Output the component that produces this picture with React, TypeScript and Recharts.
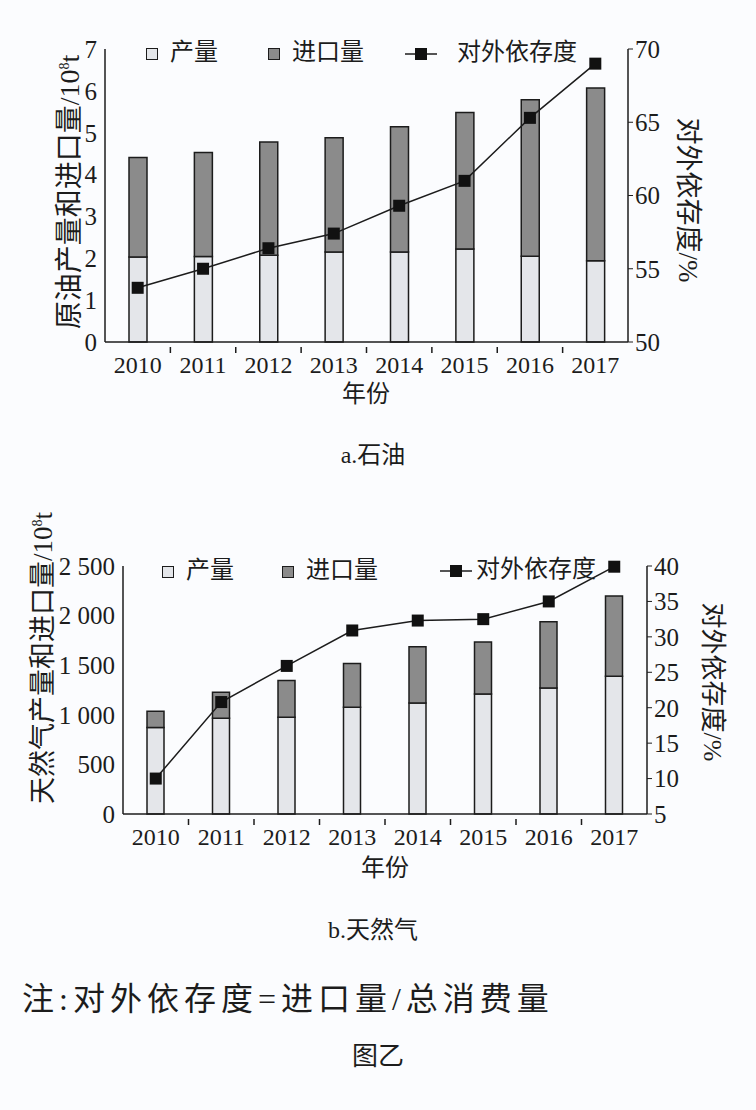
import React from 'react';
import { ComposedChart, Bar, Line, XAxis, YAxis } from 'recharts';

const years = ['2010', '2011', '2012', '2013', '2014', '2015', '2016', '2017'];

// a. 石油 (10^8 t, %)
const oilOutput = [2.03, 2.04, 2.07, 2.15, 2.15, 2.22, 2.05, 1.94];
const oilImport = [2.38, 2.49, 2.71, 2.73, 2.99, 3.26, 3.74, 4.13];
const oilDependence = [53.7, 55.0, 56.4, 57.4, 59.3, 61.0, 65.3, 69.0];
const oilLeftTicks = [0, 1, 2, 3, 4, 5, 6, 7];
const oilRightTicks = [50, 55, 60, 65, 70];

// b. 天然气
const gasOutput = [871, 965, 975, 1077, 1118, 1209, 1270, 1389];
const gasImport = [164, 262, 370, 441, 569, 525, 668, 809];
const gasDependence = [10.0, 20.8, 25.9, 30.9, 32.3, 32.5, 35.0, 39.9];
const gasLeftTicks = [0, 500, 1000, 1500, 2000, 2500];
const gasRightTicks = [5, 10, 15, 20, 25, 30, 35, 40];

const FONT = '"Liberation Serif", "Noto Sans CJK SC", serif';
const INK = '#1c1c1c';
const OUTPUT_FILL = '#e4e6ea';
const IMPORT_FILL = '#8b8b8b';

const oilData = years.map((y, i) => ({
  year: y,
  output: oilOutput[i],
  imports: oilImport[i],
  dep: oilDependence[i],
}));

const gasData = years.map((y, i) => ({
  year: y,
  output: gasOutput[i],
  imports: gasImport[i],
  dep: gasDependence[i],
}));

const xTickStyle = { fontFamily: FONT, fontSize: 24, fill: INK };
const yTickStyle = { fontFamily: FONT, fontSize: 25, fill: INK };

const spaced = (v: number) =>
  v >= 1000 ? `${Math.floor(v / 1000)} ${String(v % 1000).padStart(3, '0')}` : String(v);

// year label plus a small tick mark between categories
const YearTick = (props: any) => {
  const { x, y, payload, index } = props;
  const half = payload?.offset ?? 32;
  return (
    <g>
      <text x={x} y={y} dy="0.71em" textAnchor="middle" {...xTickStyle}>
        {payload.value}
      </text>
      {index < years.length - 1 && (
        <line x1={x + half} x2={x + half} y1={y - 9} y2={y - 3} stroke={INK} strokeWidth={1.5} />
      )}
    </g>
  );
};

const SquareDot = (props: any) => {
  const { cx, cy, index } = props;
  if (cx == null || cy == null) return null;
  return <rect key={index} x={cx - 6} y={cy - 6} width={12} height={12} fill="#111" />;
};

const BoxIcon = ({ fill }: { fill: string }) => (
  <span
    style={{
      display: 'inline-block',
      width: 10,
      height: 10,
      background: fill,
      border: `1.5px solid ${INK}`,
      marginRight: 12,
      verticalAlign: 'middle',
    }}
  />
);

const LineIcon = () => (
  <svg width={32} height={14} style={{ verticalAlign: 'middle', marginRight: 4 }}>
    <line x1={0} x2={32} y1={7} y2={7} stroke={INK} strokeWidth={1.5} />
    <rect x={10} y={1} width={12} height={12} fill="#111" />
  </svg>
);

const abs = (left: number, top: number, extra: React.CSSProperties = {}): React.CSSProperties => ({
  position: 'absolute',
  left,
  top,
  fontFamily: FONT,
  color: INK,
  whiteSpace: 'nowrap',
  lineHeight: 1,
  ...extra,
});

interface PanelProps {
  data: any[];
  top: number;
  height: number;
  margin: { top: number; bottom: number };
  leftWidth: number;
  rightWidth: number;
  leftDomain: number[];
  leftTicks: number[];
  rightDomain: number[];
  rightTicks: number[];
  barSize: number;
}

const Panel = (p: PanelProps) => (
  <div style={{ position: 'absolute', left: 0, top: p.top }}>
    <ComposedChart
      width={756}
      height={p.height}
      data={p.data}
      margin={{ top: p.margin.top, right: 0, bottom: p.margin.bottom, left: 0 }}
      barCategoryGap="0%"
    >
      <XAxis
        dataKey="year"
        height={30}
        tickLine={false}
        axisLine={{ stroke: INK, strokeWidth: 1.5 }}
        tick={<YearTick />}
        tickMargin={8}
        interval={0}
      />
      <YAxis
        yAxisId="left"
        width={p.leftWidth}
        domain={p.leftDomain}
        ticks={p.leftTicks}
        tickFormatter={spaced}
        tick={yTickStyle}
        tickLine={false}
        axisLine={{ stroke: INK, strokeWidth: 1.5 }}
        interval={0}
      />
      <YAxis
        yAxisId="right"
        orientation="right"
        width={p.rightWidth}
        domain={p.rightDomain}
        ticks={p.rightTicks}
        tick={yTickStyle}
        tickSize={5}
        tickLine={{ stroke: INK }}
        axisLine={{ stroke: INK, strokeWidth: 1.5 }}
        interval={0}
      />
      <Bar
        yAxisId="left"
        dataKey="output"
        stackId="s"
        barSize={p.barSize}
        fill={OUTPUT_FILL}
        stroke={INK}
        strokeWidth={1.5}
        isAnimationActive={false}
      />
      <Bar
        yAxisId="left"
        dataKey="imports"
        stackId="s"
        barSize={p.barSize}
        fill={IMPORT_FILL}
        stroke={INK}
        strokeWidth={1.5}
        isAnimationActive={false}
      />
      <Line
        yAxisId="right"
        dataKey="dep"
        type="linear"
        stroke={INK}
        strokeWidth={1.5}
        dot={SquareDot}
        activeDot={false}
        isAnimationActive={false}
      />
    </ComposedChart>
  </div>
);

export default function App() {
  return (
    <div
      style={{
        position: 'absolute',
        left: 0,
        top: 0,
        width: 756,
        height: 1110,
        background: '#fbfcfe',
        overflow: 'hidden',
      }}
    >
      {/* a. 石油 */}
      <Panel
        data={oilData}
        top={0}
        height={380}
        margin={{ top: 49, bottom: 8 }}
        leftWidth={105}
        rightWidth={128}
        leftDomain={[0, 7]}
        leftTicks={oilLeftTicks}
        rightDomain={[50, 70]}
        rightTicks={oilRightTicks}
        barSize={18}
      />
      <div style={abs(146, 40, { fontSize: 24 })}>
        <BoxIcon fill={OUTPUT_FILL} />产量
      </div>
      <div style={abs(268, 40, { fontSize: 24 })}>
        <BoxIcon fill={IMPORT_FILL} />进口量
      </div>
      <div style={abs(405, 40, { fontSize: 24 })}>
        <LineIcon />
        <span style={{ marginLeft: 16 }}>对外依存度</span>
      </div>
      <div style={abs(70, 192, { fontSize: 28, transform: 'translate(-50%, -50%) rotate(-90deg)' })}>
        原油产量和进口量/10<sup style={{ fontSize: 14 }}>8</sup>t
      </div>
      <div style={abs(687, 200, { fontSize: 27, transform: 'translate(-50%, -50%) rotate(90deg)' })}>
        对外依存度/%
      </div>
      <div style={abs(366, 394, { fontSize: 24, transform: 'translate(-50%, -50%)' })}>年份</div>
      <div style={abs(373, 455, { fontSize: 24, transform: 'translate(-50%, -50%)' })}>a.石油</div>

      {/* b. 天然气 */}
      <Panel
        data={gasData}
        top={500}
        height={360}
        margin={{ top: 66, bottom: 16 }}
        leftWidth={123}
        rightWidth={109}
        leftDomain={[0, 2500]}
        leftTicks={gasLeftTicks}
        rightDomain={[5, 40]}
        rightTicks={gasRightTicks}
        barSize={17}
      />
      <div style={abs(162, 558, { fontSize: 24 })}>
        <BoxIcon fill={OUTPUT_FILL} />产量
      </div>
      <div style={abs(282, 558, { fontSize: 24 })}>
        <BoxIcon fill={IMPORT_FILL} />进口量
      </div>
      <div style={abs(440, 557, { fontSize: 24 })}>
        <LineIcon />
        对外依存度
      </div>
      <div style={abs(43, 658, { fontSize: 27, transform: 'translate(-50%, -50%) rotate(-90deg)' })}>
        天然气产量和进口量/10<sup style={{ fontSize: 14 }}>8</sup>t
      </div>
      <div style={abs(712, 682, { fontSize: 26, transform: 'translate(-50%, -50%) rotate(90deg)' })}>
        对外依存度/%
      </div>
      <div style={abs(385, 868, { fontSize: 24, transform: 'translate(-50%, -50%)' })}>年份</div>
      <div style={abs(373, 930, { fontSize: 24, transform: 'translate(-50%, -50%)' })}>b.天然气</div>

      <div style={abs(22, 983, { fontSize: 32, letterSpacing: 5 })}>注:对外依存度=进口量/总消费量</div>
      <div style={abs(378, 1057, { fontSize: 26, transform: 'translate(-50%, -50%)' })}>图乙</div>
    </div>
  );
}
